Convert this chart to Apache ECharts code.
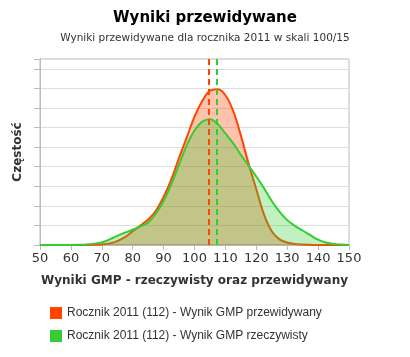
<!DOCTYPE html>
<html>
<head>
<meta charset="utf-8">
<script src="https://cdn.jsdelivr.net/npm/echarts@6/dist/echarts.min.js"></script>
<style>html,body{margin:0;padding:0;background:#fff}#c{width:410px;height:357px}</style>
</head>
<body>
<div id="c"></div>
<script>
var xValues = [50,52.5,55,57.5,60,62.5,65,67.5,70,72.5,75,77.5,80,82.5,85,87.5,90,92.5,95,97.5,100,102.5,105,107.5,110,112.5,115,117.5,120,122.5,125,127.5,130,132.5,135,137.5,140,142.5,145,147.5,150];
var predicted = [0,0,0,0,0,0,0,0.01,0.03,0.08,0.2,0.4,0.7,1.0,1.3,1.75,2.45,3.35,4.45,5.5,6.55,7.35,7.87,7.95,7.65,6.85,5.6,4.15,2.85,1.55,0.7,0.29,0.13,0.05,0.02,0.01,0,0,0,0,0];
var actual = [0,0,0,0,0,0.01,0.03,0.07,0.13,0.28,0.47,0.63,0.78,0.95,1.15,1.6,2.25,3.1,4.1,5.1,5.85,6.3,6.42,6.18,5.7,5.2,4.6,4.05,3.5,2.9,2.25,1.7,1.27,0.98,0.74,0.5,0.27,0.13,0.05,0.02,0];
var predictedMean = 104.7;
var actualMean = 107.2;
var seriesNames = ['Rocznik 2011 (112) - Wynik GMP przewidywany', 'Rocznik 2011 (112) - Wynik GMP rzeczywisty'];
var titleText = 'Wyniki przewidywane';
var subtitleText = 'Wyniki przewidywane dla rocznika 2011 w skali 100/15';
var xAxisName = 'Wyniki GMP - rzeczywisty oraz przewidywany';
var yAxisName = 'Częstość';

function pairs(ys){ return xValues.map(function(x,i){ return [x, ys[i]]; }); }

var chart = echarts.init(document.getElementById('c'));
chart.setOption({
  animation: false,
  title: {
    text: titleText, subtext: subtitleText, left: 'center', top: 6, itemGap: 7,
    textStyle: {fontFamily: 'DejaVu Sans', fontWeight: 'bold', fontSize: 15, color: '#000'},
    subtextStyle: {fontFamily: 'DejaVu Sans', fontSize: 10.5, color: '#333'}
  },
  legend: {
    orient: 'vertical', left: 45, top: 302, itemWidth: 12, itemHeight: 12, itemGap: 11,
    icon: 'rect',
    textStyle: {fontFamily: 'Liberation Sans', fontSize: 12, color: '#333'},
    data: seriesNames
  },
  grid: {left: 40, right: 61, top: 59, bottom: 112, show: true, borderColor: '#bbb', borderWidth: 1},
  xAxis: {
    type: 'value', min: 50, max: 150, interval: 10,
    name: xAxisName, nameLocation: 'middle', nameGap: 30,
    nameTextStyle: {fontFamily: 'DejaVu Sans', fontWeight: 'bold', fontSize: 12, color: '#333'},
    axisLine: {lineStyle: {color: '#bbb', width: 2}},
    axisTick: {show: true, length: 5, lineStyle: {color: '#bbb'}},
    axisLabel: {fontFamily: 'DejaVu Sans', fontSize: 13, color: '#333', margin: 7},
    splitLine: {show: false}
  },
  yAxis: {
    type: 'value', min: 0, max: 9.5, interval: 1,
    name: yAxisName, nameLocation: 'middle', nameGap: 16, nameRotate: 90,
    nameTextStyle: {fontFamily: 'DejaVu Sans', fontWeight: 'bold', fontSize: 12, color: '#333'},
    axisLine: {show: true, lineStyle: {color: '#bbb'}},
    axisTick: {show: true, length: 6, lineStyle: {color: '#bbb'}},
    axisLabel: {show: false},
    splitLine: {lineStyle: {color: '#ddd'}}
  },
  series: [
    {
      name: seriesNames[0], type: 'line', smooth: 0.4, showSymbol: false, data: pairs(predicted),
      itemStyle: {color: '#ff4500'},
      lineStyle: {color: '#ff4500', width: 2},
      areaStyle: {color: '#ff4500', opacity: 0.32},
      z: 2,
      markLine: {symbol: 'none', silent: true, label: {show: false},
        lineStyle: {color: '#ff4500', type: [6,4], width: 2},
        data: [{xAxis: predictedMean}]}
    },
    {
      name: seriesNames[1], type: 'line', smooth: 0.4, showSymbol: false, data: pairs(actual),
      itemStyle: {color: '#33cc33'},
      lineStyle: {color: '#33cc33', width: 2},
      areaStyle: {color: '#32cd32', opacity: 0.3},
      z: 3,
      markLine: {symbol: 'none', silent: true, label: {show: false},
        lineStyle: {color: '#33cc33', type: [6,4], width: 2},
        data: [{xAxis: actualMean}]}
    }
  ]
});
</script>
</body>
</html>
